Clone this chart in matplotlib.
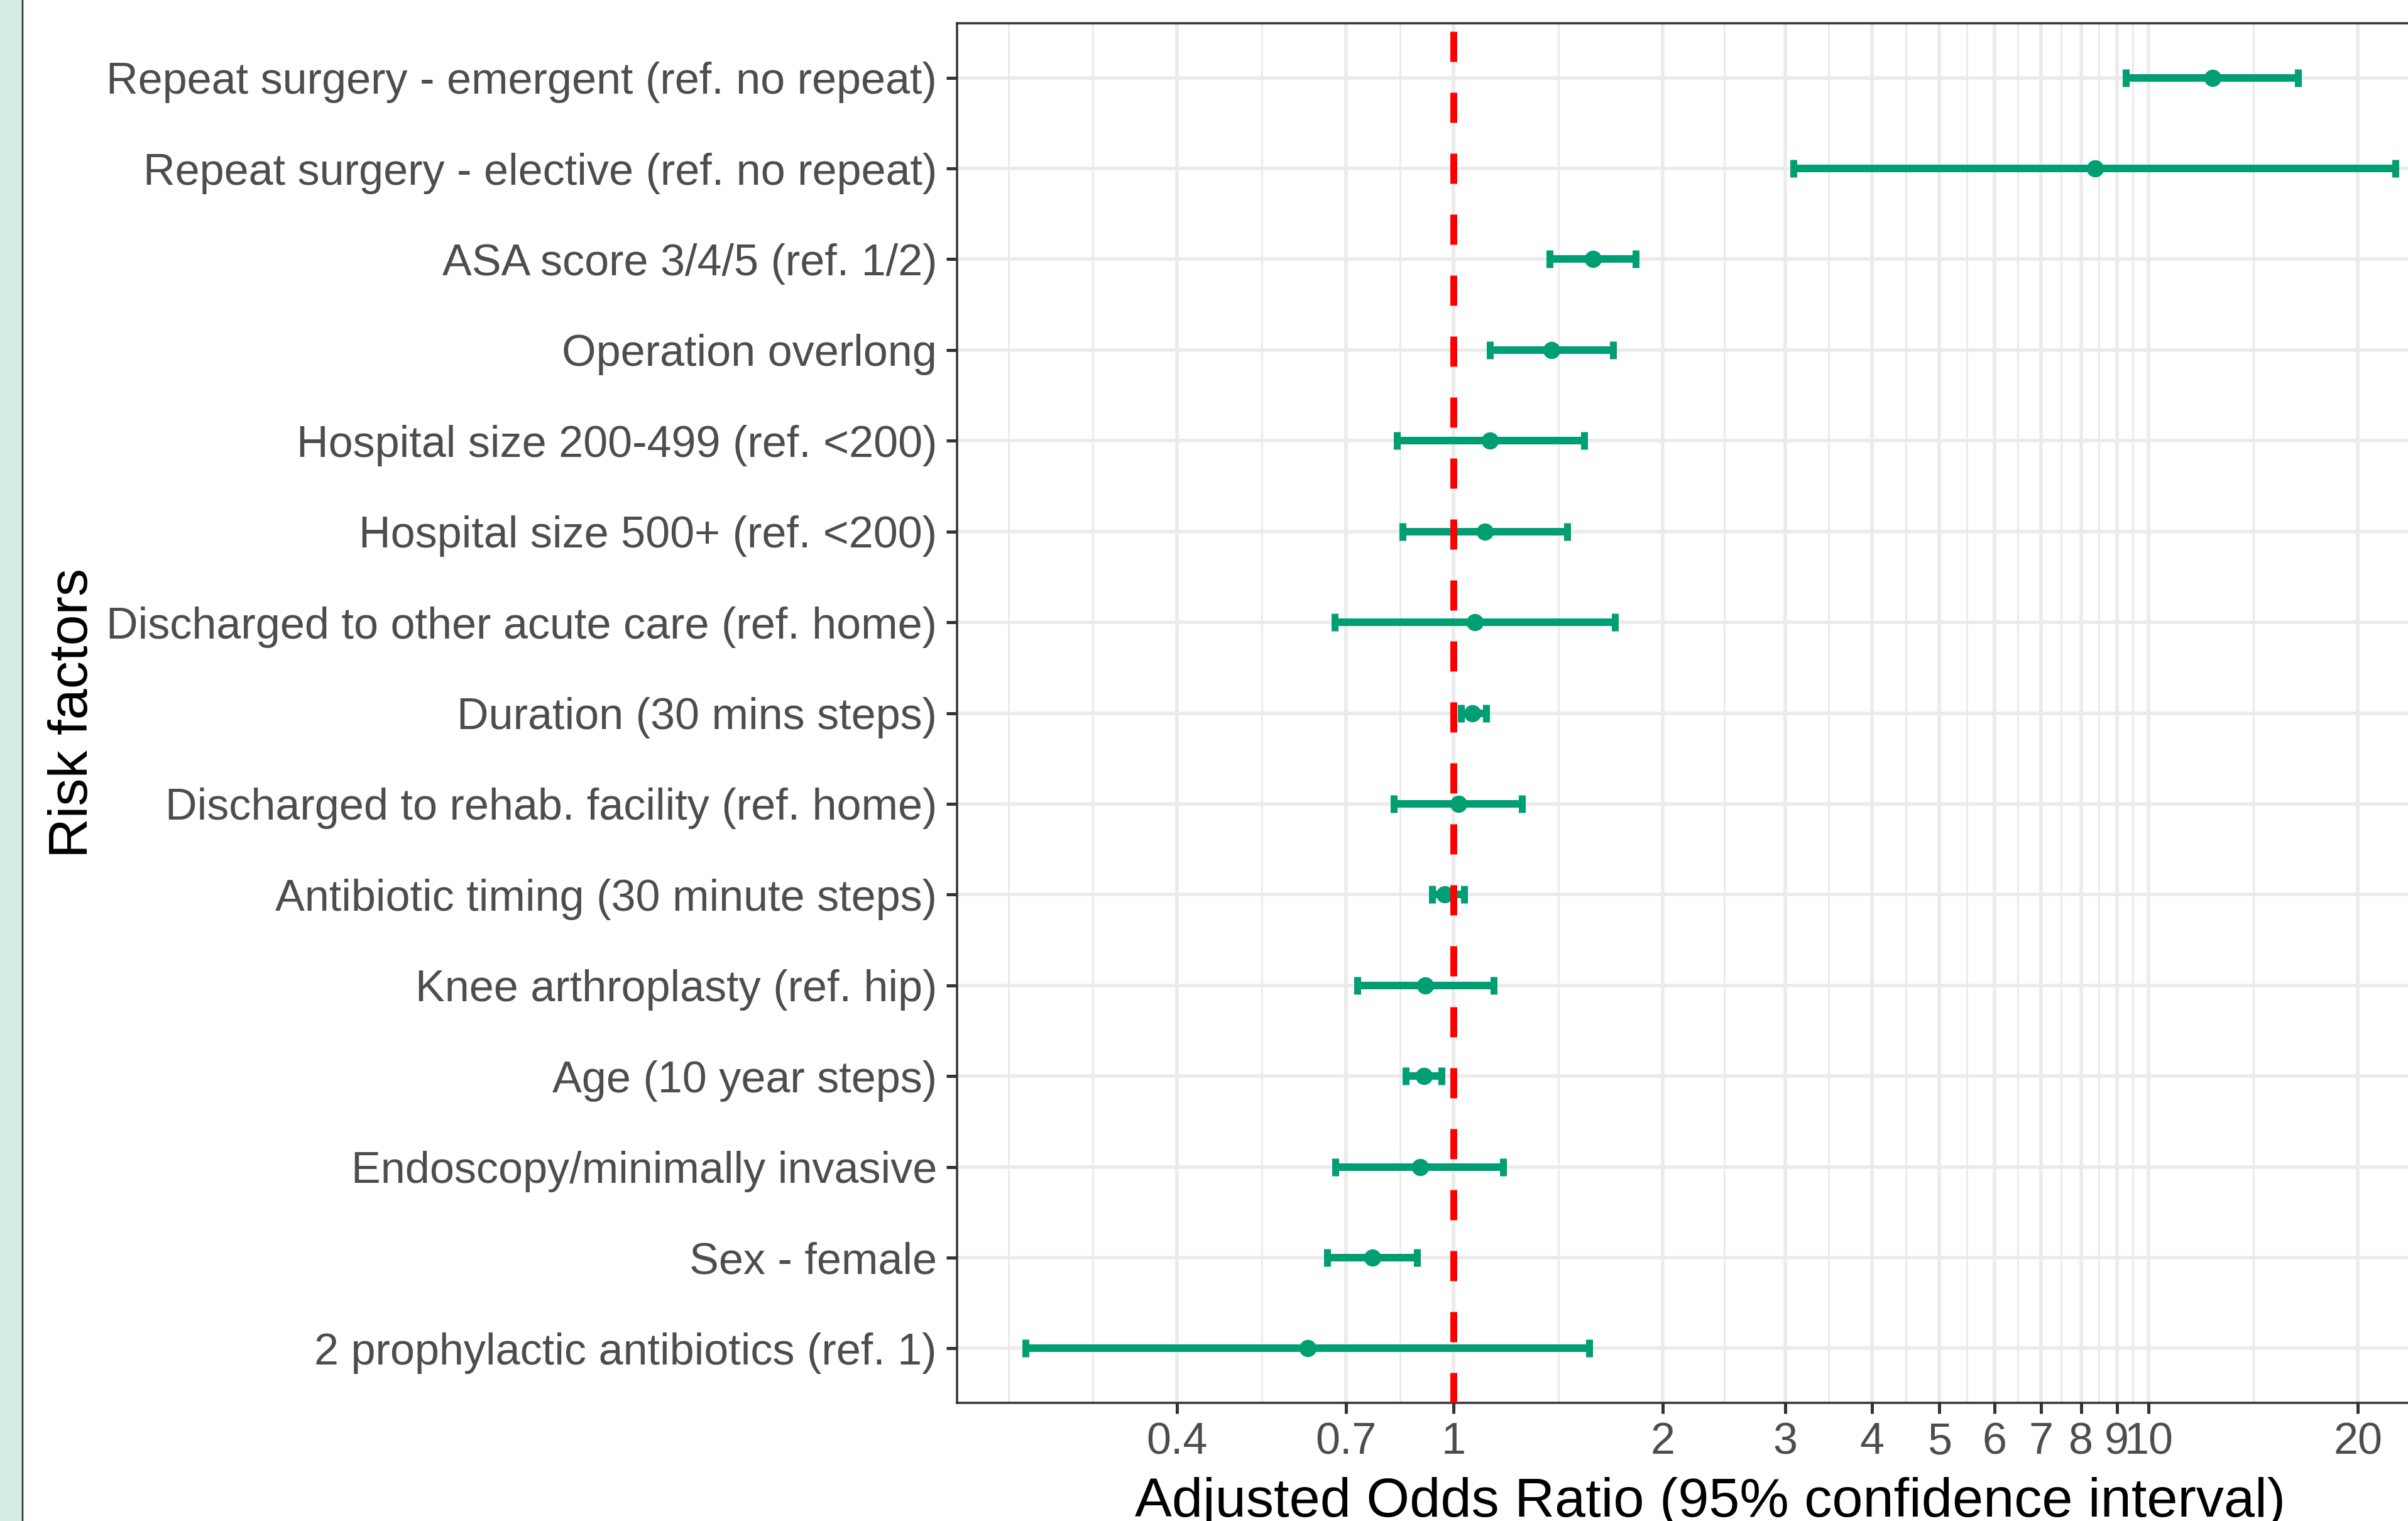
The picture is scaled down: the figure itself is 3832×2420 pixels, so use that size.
import numpy as np
import matplotlib
matplotlib.use('Agg')
import matplotlib.pyplot as plt
from matplotlib.patches import Rectangle
from matplotlib.lines import Line2D
from matplotlib.ticker import NullFormatter

plt.rcParams['font.family'] = ['Liberation Sans', 'DejaVu Sans']
plt.rcParams['lines.scale_dashes'] = False

# risk factors, top row first
factors = ['Repeat surgery - emergent (ref. no repeat)',
           'Repeat surgery - elective (ref. no repeat)',
           'ASA score 3/4/5 (ref. 1/2)',
           'Operation overlong',
           'Hospital size 200-499 (ref. <200)',
           'Hospital size 500+ (ref. <200)',
           'Discharged to other acute care (ref. home)',
           'Duration (30 mins steps)',
           'Discharged to rehab. facility (ref. home)',
           'Antibiotic timing (30 minute steps)',
           'Knee arthroplasty (ref. hip)',
           'Age (10 year steps)',
           'Endoscopy/minimally invasive',
           'Sex - female',
           '2 prophylactic antibiotics (ref. 1)']
odds = [12.36, 8.38, 1.586, 1.382, 1.128, 1.109, 1.072, 1.063, 1.015,
        0.971, 0.909, 0.906, 0.894, 0.764, 0.616]
lower = [9.28, 3.08, 1.373, 1.127, 0.828, 0.844, 0.674, 1.025, 0.820,
         0.931, 0.726, 0.853, 0.675, 0.658, 0.242]
upper = [16.4, 22.66, 1.829, 1.697, 1.540, 1.457, 1.706, 1.114, 1.254,
         1.036, 1.142, 0.961, 1.179, 0.886, 1.566]

x_breaks = [0.4, 0.7, 1, 2, 3, 4, 5, 6, 7, 8, 9, 10, 20]
x_labels = ['0.4', '0.7', '1', '2', '3', '4', '5', '6', '7', '8', '9', '10', '20']

W, H = 3832, 2420
green = '#009E73'
px = 0.72  # points per pixel at dpi 100

odds = np.array(odds)
lower = np.array(lower)
upper = np.array(upper)
ypos = np.arange(1, len(factors) + 1)

fig = plt.figure(figsize=(W / 100, H / 100), dpi=100)
# panel runs past the right edge of the image (cropped like the original)
ax = fig.add_axes([1523 / W, (H - 2232) / H, (3921 - 1523) / W, (2232 - 37) / H])

ax.set_xscale('log')
lo, hi = np.log10(lower.min()), np.log10(upper.max())
pad = 0.05 * (hi - lo)
ax.set_xlim(10 ** (lo - pad), 10 ** (hi + pad))
ax.set_ylim(len(factors) + 0.6, 0.4)

# minor grid at log-midpoints between breaks, like ggplot
lb = np.log10(x_breaks)
ext = np.concatenate([[lb[0] - (lb[1] - lb[0])], lb, [lb[-1] + (lb[-1] - lb[-2])]])
minor = 10 ** np.concatenate([ext[:1], (ext[:-1] + ext[1:]) / 2])
ax.set_xticks(x_breaks, labels=x_labels)
ax.set_xticks(minor, minor=True)
ax.xaxis.set_minor_formatter(NullFormatter())
ax.set_yticks(ypos, labels=factors)

ax.set_axisbelow(True)
ax.grid(which='major', color='#ebebeb', lw=5.5 * px)
ax.grid(which='minor', axis='x', color='#ebebeb', lw=3 * px)
for s in ax.spines.values():
    s.set_color('#333333')
    s.set_linewidth(3.5 * px)

ax.tick_params(which='major', length=17 * px, width=5 * px, color='#333333',
               labelsize=50.5, labelcolor='#4d4d4d')
ax.tick_params(axis='x', pad=13 * px)
ax.tick_params(axis='y', pad=15 * px)
ax.tick_params(which='minor', length=0)

ax.errorbar(odds, ypos, xerr=[odds - lower, upper - odds], fmt='o',
            color=green, ms=26 * px, elinewidth=12 * px, capsize=14 * px,
            capthick=11 * px, zorder=3)
ax.axvline(1, color='red', lw=11 * px, linestyle=(0, (48 * px, 49 * px)),
           zorder=5)

fig.text(2722 / W, 1 - 2413 / H, 'Adjusted Odds Ratio (95% confidence interval)',
         ha='center', va='baseline', fontsize=63.5, color='black')
fig.text(117 / W, 1 - 1134 / H, 'Risk factors', rotation=90,
         ha='center', va='center', fontsize=63.5, color='black')

# green strip on the left edge
fig.patches.append(Rectangle((0, 0), 35 / W, 1, transform=fig.transFigure,
                             color='#d2ece1', zorder=0))
fig.lines.append(Line2D([36 / W, 36 / W], [0, 1], transform=fig.transFigure,
                        color='#2a2a2a', lw=2.5 * px))

fig.savefig('out.png', dpi=100)
